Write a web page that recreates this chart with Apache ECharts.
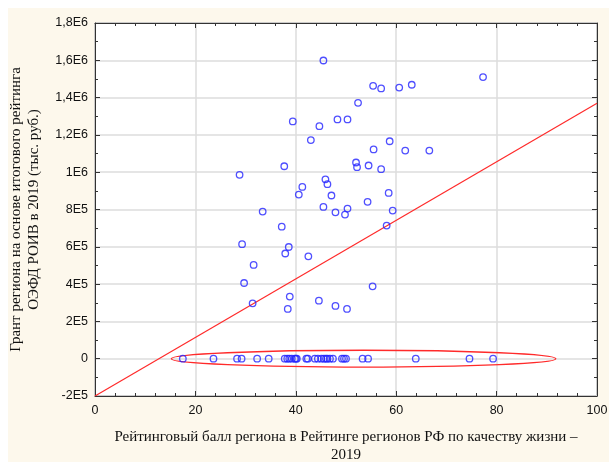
<!DOCTYPE html>
<html>
<head>
<meta charset="utf-8">
<script src="https://cdn.jsdelivr.net/npm/echarts@6/dist/echarts.min.js"></script>
<style>
  html, body { margin: 0; padding: 0; background: #fff; }
  #main { width: 609px; height: 462px; }
</style>
</head>
<body>
<div id="main"></div>
<script>
  // рейтинговый балл (x) и грант, тыс. руб. (y) — регионы с ненулевым грантом
  const scoreNonZero = [45.5, 77.3, 55.4, 57.0, 60.6, 63.1, 52.4, 39.4, 44.7, 48.3, 50.3, 43.0, 58.7, 55.5, 61.8, 66.6,
    28.8, 37.7, 52.0, 52.2, 54.5, 57.0, 45.9, 46.3, 41.3, 40.6, 47.1, 58.5, 33.4, 45.5, 47.9, 49.8, 50.3, 54.3, 59.3,
    37.2, 58.1, 29.3, 38.6, 37.9, 42.5, 31.6, 29.7, 55.3, 38.8, 31.4, 44.6, 47.9, 38.4, 50.2];
  const grantNonZero = [1599000, 1510000, 1463000, 1449000, 1454000, 1469000, 1372000, 1272000, 1247000, 1283000, 1283000,
    1172000, 1166000, 1122000, 1116000, 1116000, 986000, 1032000, 1052000, 1027000, 1036000, 1016000, 962000, 936000,
    921000, 880000, 875000, 889000, 789000, 814000, 785000, 773000, 805000, 841000, 794000, 708000, 714000, 614000,
    599000, 564000, 549000, 503000, 406000, 388000, 333000, 297000, 311000, 283000, 267000, 267000];
  // регионы с нулевым грантом
  const scoreZero = [17.5, 23.6, 28.3, 29.2, 32.3, 34.6, 37.8, 38.3, 38.7, 39.2, 39.8, 40.0, 40.2, 42.1, 42.4, 43.8,
    44.4, 45.1, 45.6, 46.0, 46.3, 46.8, 47.4, 49.2, 49.6, 50.0, 53.3, 54.4, 63.9, 74.6, 79.3];
  // линия тренда: концы
  const trendX = [0, 100];
  const trendY = [-200000, 1370000];
  // эллипс вокруг нулей: центр x, центр y, полуось x, полуось y
  const ellipse = [53.5, 0, 38.3, 45000];

  const yTickValues = [-200000, 0, 200000, 400000, 600000, 800000, 1000000, 1200000, 1400000, 1600000, 1800000];
  const yTickLabels = ['-2E5', '0', '2E5', '4E5', '6E5', '8E5', '1E6', '1,2E6', '1,4E6', '1,6E6', '1,8E6'];
  const xTickLabels = ['0', '20', '40', '60', '80', '100'];

  const pts = scoreNonZero.map((x, i) => [x, grantNonZero[i]])
    .concat(scoreZero.map(x => [x, 0]));

  const gridLine = { show: true, lineStyle: { color: '#dcdcdc', width: 1.5 } };
  const tickStyle = { show: true, inside: true, length: 5, lineStyle: { color: '#333' } };
  const minorStyle = { show: true, length: 3, lineStyle: { color: '#333' } };
  const labelFont = { fontFamily: 'Liberation Sans', fontSize: 12.5, color: '#111' };
  const nameFont = { fontFamily: 'Liberation Serif', fontSize: 15, color: '#111', lineHeight: 18 };

  const chart = echarts.init(document.getElementById('main'));
  chart.setOption({
    animation: false,
    graphic: [
      { type: 'rect', left: 8, top: 8, z: -100, shape: { width: 601, height: 454 }, style: { fill: '#fdf8ec' } }
    ],
    grid: {
      left: 95, right: 12, top: 23, bottom: 66, outerBoundsMode: 'none', containLabel: false,
      show: true, backgroundColor: '#fff', borderColor: '#333', borderWidth: 1
    },
    xAxis: [
      {
        type: 'value', min: 0, max: 100, interval: 20,
        axisLine: { show: true, onZero: false, lineStyle: { color: '#333' } },
        axisTick: tickStyle, minorTick: Object.assign({ splitNumber: 5 }, minorStyle),
        splitLine: gridLine,
        axisLabel: Object.assign({ margin: 8, formatter: v => xTickLabels[Math.round(v / 20)] }, labelFont),
        name: 'Рейтинговый балл региона в Рейтинге регионов РФ по качеству жизни –\n2019',
        nameLocation: 'middle', nameGap: 32, nameTextStyle: nameFont
      },
      {
        type: 'value', position: 'top', min: 0, max: 100, interval: 20,
        axisLine: { show: true, onZero: false, lineStyle: { color: '#333' } },
        axisTick: tickStyle, minorTick: Object.assign({ splitNumber: 5 }, minorStyle),
        splitLine: { show: false }, axisLabel: { show: false }
      }
    ],
    yAxis: [
      {
        type: 'value', min: -200000, max: 1800000, interval: 200000,
        axisLine: { show: true, onZero: false, lineStyle: { color: '#333' } },
        axisTick: tickStyle, minorTick: Object.assign({ splitNumber: 2 }, minorStyle),
        splitLine: gridLine,
        axisLabel: Object.assign({ margin: 7, formatter: v => yTickLabels[yTickValues.indexOf(Math.round(v))] }, labelFont),
        name: 'Грант региона на основе итогового рейтинга\nОЭФД РОИВ в 2019 (тыс. руб.)',
        nameLocation: 'middle', nameGap: 52, nameRotate: 90, nameTextStyle: nameFont
      },
      {
        type: 'value', position: 'right', min: -200000, max: 1800000, interval: 200000,
        axisLine: { show: true, onZero: false, lineStyle: { color: '#333' } },
        axisTick: tickStyle, minorTick: Object.assign({ splitNumber: 2 }, minorStyle),
        splitLine: { show: false }, axisLabel: { show: false }
      }
    ],
    series: [
      {
        type: 'line', data: trendX.map((x, i) => [x, trendY[i]]),
        symbol: 'none', lineStyle: { color: '#ff2a2a', width: 1.2 }, z: 3
      },
      {
        type: 'custom', data: [ellipse], clip: false, z: 3,
        encode: { x: 0, y: 1 },
        renderItem: function (params, api) {
          const c = api.coord([api.value(0), api.value(1)]);
          const r = api.coord([api.value(0) + api.value(2), api.value(1)]);
          const t = api.coord([api.value(0), api.value(1) + api.value(3)]);
          const rx = r[0] - c[0], ry = c[1] - t[1];
          const d = 'M' + (c[0] - rx) + ' ' + c[1] +
            ' A' + rx + ' ' + ry + ' 0 1 0 ' + (c[0] + rx) + ' ' + c[1] +
            ' A' + rx + ' ' + ry + ' 0 1 0 ' + (c[0] - rx) + ' ' + c[1] + ' Z';
          return { type: 'path', shape: { pathData: d }, style: { fill: 'none', stroke: '#ff2a2a', lineWidth: 1.4 } };
        }
      },
      {
        type: 'scatter', data: pts, symbol: 'circle', symbolSize: 6.5, z: 4,
        itemStyle: { color: 'rgba(0,0,0,0)', borderColor: '#2323ff', borderWidth: 1.3 }
      }
    ]
  });
</script>
</body>
</html>
